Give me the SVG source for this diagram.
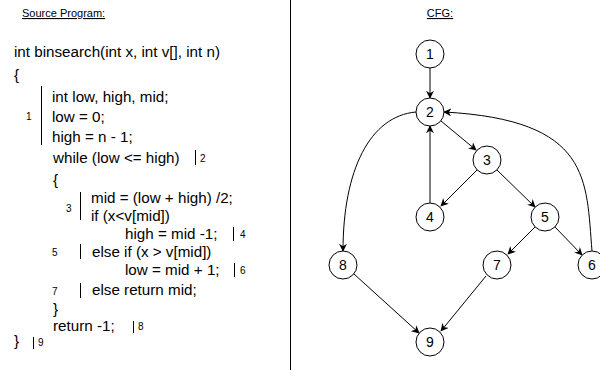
<svg xmlns="http://www.w3.org/2000/svg" width="600" height="370" viewBox="0 0 600 370">
<defs>
<style>
text{font-family:"Liberation Sans",Arial,sans-serif;fill:#000}
.code{font-size:15.2px}
.title{font-size:11px;text-decoration:underline}
.lab{font-size:10px}
.bar{stroke:#000;stroke-width:1;fill:none}
.node circle{fill:#fff;stroke:#000;stroke-width:1}
.node text{font-size:14px;text-anchor:middle}
.edge{stroke:#000;stroke-width:1;fill:none;marker-end:url(#arr)}
</style>
<marker id="arr" viewBox="0 0 10 10" refX="9" refY="5" markerWidth="8" markerHeight="8" orient="auto" markerUnits="userSpaceOnUse">
<path d="M0,0 L10,5 L0,10 L3,5 Z" fill="#000"/>
</marker>
</defs>
<rect width="600" height="370" fill="#fff"/>
<line x1="290.5" y1="0" x2="290.5" y2="370" stroke="#000" stroke-width="1"/>
<g id="source">
<text class="title" x="22" y="17">Source Program:</text>
<text class="code" x="14" y="57">int binsearch(int x, int v[], int n)</text>
<text class="code" x="14" y="80">{</text>
<text class="code" x="52" y="102">int low, high, mid;</text>
<text class="code" x="52" y="122">low = 0;</text>
<text class="code" x="52" y="142">high = n - 1;</text>
<text class="code" x="53" y="163">while (low &lt;= high)</text>
<text class="code" x="53" y="185">{</text>
<text class="code" x="91" y="203">mid = (low + high) /2;</text>
<text class="code" x="91" y="221">if (x&lt;v[mid])</text>
<text class="code" x="125" y="239">high = mid -1;</text>
<text class="code" x="92" y="257">else if (x &gt; v[mid])</text>
<text class="code" x="125" y="275">low = mid + 1;</text>
<text class="code" x="92" y="295">else return mid;</text>
<text class="code" x="53" y="314">}</text>
<text class="code" x="53" y="331">return -1;</text>
<text class="code" x="14" y="346">}</text>
<line class="bar" x1="41.5" y1="86" x2="41.5" y2="145"/>
<text class="lab" x="26" y="120">1</text>
<line class="bar" x1="195.5" y1="150" x2="195.5" y2="165"/>
<text class="lab" x="200" y="162">2</text>
<line class="bar" x1="80.5" y1="192" x2="80.5" y2="220"/>
<text class="lab" x="66" y="212">3</text>
<line class="bar" x1="233.5" y1="227" x2="233.5" y2="241"/>
<text class="lab" x="240" y="238">4</text>
<line class="bar" x1="80.5" y1="244" x2="80.5" y2="259"/>
<text class="lab" x="52" y="256">5</text>
<line class="bar" x1="234.5" y1="263" x2="234.5" y2="277"/>
<text class="lab" x="240" y="274">6</text>
<line class="bar" x1="80.5" y1="283" x2="80.5" y2="298"/>
<text class="lab" x="52" y="295">7</text>
<line class="bar" x1="133.5" y1="321" x2="133.5" y2="333"/>
<text class="lab" x="138" y="330">8</text>
<line class="bar" x1="33.5" y1="337" x2="33.5" y2="349"/>
<text class="lab" x="38" y="346">9</text>
</g>
<text class="title" x="440" y="17" text-anchor="middle">CFG:</text>
<g id="connectors">
<path class="edge" d="M430,68 L430,98"/>
<path class="edge" d="M441,121 L476,150"/>
<path class="edge" d="M477,170 L441,206"/>
<path class="edge" d="M497,170 L535,207"/>
<path class="edge" d="M430,203 L430,126"/>
<path class="edge" d="M416,112 C370,116 343,170 343,251"/>
<path class="edge" d="M592,251 C586,180 592,120 444,112"/>
<path class="edge" d="M535,227 L508,254"/>
<path class="edge" d="M555,227 L582,255"/>
<path class="edge" d="M354,274 L419,333"/>
<path class="edge" d="M486,276 L441,331"/>
</g>
<g id="n1" class="node"><circle cx="430" cy="54" r="14"/><text x="430" y="59">1</text></g>
<g id="n2" class="node"><circle cx="430" cy="112" r="14"/><text x="430" y="117">2</text></g>
<g id="n3" class="node"><circle cx="487" cy="160" r="14"/><text x="487" y="165">3</text></g>
<g id="n4" class="node"><circle cx="430" cy="217" r="14"/><text x="430" y="222">4</text></g>
<g id="n5" class="node"><circle cx="545" cy="217" r="14"/><text x="545" y="222">5</text></g>
<g id="n6" class="node"><circle cx="592" cy="265" r="14"/><text x="592" y="270">6</text></g>
<g id="n7" class="node"><circle cx="497" cy="265" r="14"/><text x="497" y="270">7</text></g>
<g id="n8" class="node"><circle cx="343" cy="265" r="14"/><text x="343" y="270">8</text></g>
<g id="n9" class="node"><circle cx="430" cy="342" r="14"/><text x="430" y="347">9</text></g>
</svg>
